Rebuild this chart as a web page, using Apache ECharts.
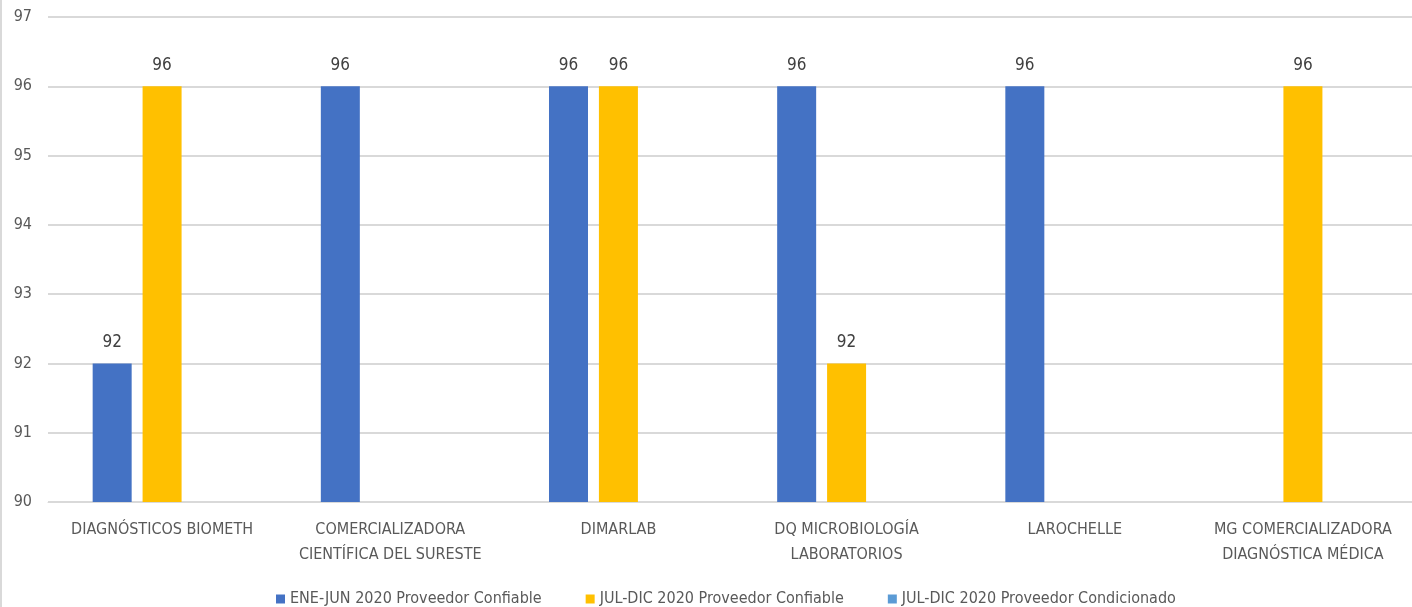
<!DOCTYPE html>
<html><head><meta charset="utf-8">
<script src="https://cdn.jsdelivr.net/npm/echarts@6/dist/echarts.min.js"></script>
<style>html,body{margin:0;padding:0;background:#fff}#c{width:1412px;height:607px}</style>
</head><body><div id="c"></div>
<script>
const categories = ['DIAGNÓSTICOS BIOMETH','COMERCIALIZADORA\nCIENTÍFICA DEL SURESTE','DIMARLAB','DQ MICROBIOLOGÍA\nLABORATORIOS','LAROCHELLE','MG COMERCIALIZADORA\nDIAGNÓSTICA MÉDICA'];
const seriesNames = ['ENE-JUN 2020 Proveedor Confiable','JUL-DIC 2020 Proveedor Confiable','JUL-DIC 2020 Proveedor Condicionado'];
const eneJunConfiable = [92, 96, 96, 96, 96, null];
const julDicConfiable = [96, null, 96, 92, null, 96];
const julDicCondicionado = [null, null, null, null, null, null];
const colors = ['#4472C4','#FFC000','#5B9BD5'];
const font = "'Liberation Sans Narrow','DejaVu Sans Condensed',sans-serif";
const chart = echarts.init(document.getElementById('c'));
const mk = (name, data, color) => ({
  name, type:'bar', data, barWidth:39, barGap:'28%',
  itemStyle:{color},
  label:{show:true, position:'top', distance:12, color:'#404040', fontSize:17, fontFamily:font}
});
chart.setOption({
  animation:false,
  color:colors,
  grid:{left:48, width:1369, top:17, bottom:105, containLabel:false, outerBoundsMode:'none'},
  legend:{bottom:-5, left:271, itemWidth:9, itemHeight:9, itemGap:44, icon:'rect',
    textStyle:{color:'#595959', fontSize:16, fontFamily:font}},
  xAxis:{type:'category', data:categories,
    axisLine:{lineStyle:{color:'#D9D9D9'}}, axisTick:{show:false},
    axisLabel:{color:'#595959', fontSize:16, fontFamily:font, lineHeight:25, margin:15, interval:0}},
  yAxis:{type:'value', min:90, max:97, interval:1,
    axisLine:{show:false}, axisTick:{show:false},
    splitLine:{lineStyle:{color:'#D9D9D9', width:2}},
    axisLabel:{color:'#595959', fontSize:16, fontFamily:font, margin:16}},
  graphic:[{type:'rect', shape:{x:0,y:0,width:2,height:607}, style:{fill:'#D9D9D9'}}],
  series:[mk(seriesNames[0], eneJunConfiable, colors[0]), mk(seriesNames[1], julDicConfiable, colors[1]), mk(seriesNames[2], julDicCondicionado, colors[2])]
});
</script></body></html>
